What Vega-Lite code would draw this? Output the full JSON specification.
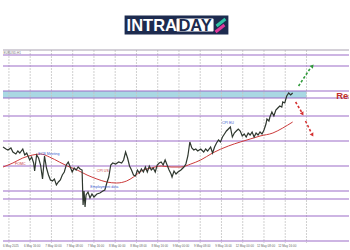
{
  "$schema": "https://vega.github.io/schema/vega-lite/v6.json",
  "width": 350,
  "height": 250,
  "padding": 0,
  "autosize": {"type": "fit", "contains": "padding"},
  "background": "white",
  "config": {"view": {"stroke": null}, "font": "Liberation Sans"},
  "datasets": {
    "band": [{"lo": 1.1152, "hi": 1.1159}],
    "vgrid": [{"t": 6}, {"t": 27.5}, {"t": 49}, {"t": 70.5}, {"t": 92}, {"t": 113.5}, {"t": 135}, {"t": 156.5}, {"t": 178}, {"t": 199.5}, {"t": 221}, {"t": 242.5}, {"t": 264}, {"t": 285.5}, {"t": 307}],
    "levels": [{"p": 1.1195}, {"p": 1.1184}, {"p": 1.1159}, {"p": 1.1152}, {"p": 1.1134}, {"p": 1.1109}, {"p": 1.1084}, {"p": 1.1059}, {"p": 1.1051}, {"p": 1.1034}, {"p": 1.1009}],
    "price": [
      {"t": 0, "p": 1.1103}, {"t": 3, "p": 1.1101}, {"t": 5, "p": 1.1100}, {"t": 8, "p": 1.1102}, {"t": 10, "p": 1.1098},
      {"t": 13, "p": 1.1096}, {"t": 15, "p": 1.1099}, {"t": 17, "p": 1.1097}, {"t": 20, "p": 1.1101}, {"t": 22, "p": 1.1095},
      {"t": 24, "p": 1.1097}, {"t": 27, "p": 1.1090}, {"t": 29, "p": 1.1093}, {"t": 31, "p": 1.1087}, {"t": 32, "p": 1.1079},
      {"t": 34, "p": 1.1095}, {"t": 36, "p": 1.1092}, {"t": 38, "p": 1.1085}, {"t": 40, "p": 1.1071}, {"t": 42, "p": 1.1094},
      {"t": 44, "p": 1.1082}, {"t": 46, "p": 1.1075}, {"t": 48, "p": 1.1070}, {"t": 50, "p": 1.1069}, {"t": 52, "p": 1.1071},
      {"t": 54, "p": 1.1065}, {"t": 56, "p": 1.1068}, {"t": 58, "p": 1.1070}, {"t": 60, "p": 1.1075}, {"t": 62, "p": 1.1078},
      {"t": 64, "p": 1.1085}, {"t": 66, "p": 1.1088}, {"t": 68, "p": 1.1083}, {"t": 70, "p": 1.1078}, {"t": 72, "p": 1.1082},
      {"t": 74, "p": 1.1080}, {"t": 76, "p": 1.1083}, {"t": 78, "p": 1.1081}, {"t": 80, "p": 1.1080}, {"t": 81, "p": 1.1045},
      {"t": 82, "p": 1.1059}, {"t": 83, "p": 1.1043}, {"t": 84, "p": 1.1055}, {"t": 86, "p": 1.1058}, {"t": 88, "p": 1.1052},
      {"t": 90, "p": 1.1056}, {"t": 92, "p": 1.1053}, {"t": 95, "p": 1.1056}, {"t": 98, "p": 1.1057}, {"t": 101, "p": 1.1059},
      {"t": 103, "p": 1.1060}, {"t": 105, "p": 1.1067}, {"t": 107, "p": 1.1073}, {"t": 109, "p": 1.1085}, {"t": 111, "p": 1.1087},
      {"t": 114, "p": 1.1086}, {"t": 117, "p": 1.1088}, {"t": 120, "p": 1.1087}, {"t": 122, "p": 1.1090}, {"t": 124, "p": 1.1098},
      {"t": 126, "p": 1.1092}, {"t": 128, "p": 1.1084}, {"t": 130, "p": 1.1080}, {"t": 132, "p": 1.1075}, {"t": 134, "p": 1.1074},
      {"t": 136, "p": 1.1080}, {"t": 138, "p": 1.1077}, {"t": 140, "p": 1.1081}, {"t": 142, "p": 1.1078}, {"t": 144, "p": 1.1083},
      {"t": 146, "p": 1.1078}, {"t": 148, "p": 1.1084}, {"t": 150, "p": 1.1080}, {"t": 152, "p": 1.1082}, {"t": 154, "p": 1.1078},
      {"t": 156, "p": 1.1085}, {"t": 158, "p": 1.1087}, {"t": 160, "p": 1.1088}, {"t": 162, "p": 1.1085}, {"t": 164, "p": 1.1090},
      {"t": 166, "p": 1.1085}, {"t": 168, "p": 1.1080}, {"t": 170, "p": 1.1076}, {"t": 171, "p": 1.1073}, {"t": 173, "p": 1.1079},
      {"t": 175, "p": 1.1076}, {"t": 177, "p": 1.1078}, {"t": 180, "p": 1.1080}, {"t": 183, "p": 1.1083}, {"t": 185, "p": 1.1086},
      {"t": 187, "p": 1.1094}, {"t": 189, "p": 1.1108}, {"t": 191, "p": 1.1102}, {"t": 193, "p": 1.1100}, {"t": 195, "p": 1.1101},
      {"t": 197, "p": 1.1099}, {"t": 200, "p": 1.1101}, {"t": 203, "p": 1.1098}, {"t": 205, "p": 1.1101}, {"t": 207, "p": 1.1099},
      {"t": 210, "p": 1.1103}, {"t": 212, "p": 1.1097}, {"t": 214, "p": 1.1103}, {"t": 216, "p": 1.1107}, {"t": 218, "p": 1.1110},
      {"t": 220, "p": 1.1108}, {"t": 222, "p": 1.1113}, {"t": 224, "p": 1.1116}, {"t": 226, "p": 1.1119}, {"t": 228, "p": 1.1121},
      {"t": 230, "p": 1.1123}, {"t": 232, "p": 1.1113}, {"t": 234, "p": 1.1117}, {"t": 236, "p": 1.1119}, {"t": 238, "p": 1.1121},
      {"t": 240, "p": 1.1119}, {"t": 242, "p": 1.1114}, {"t": 244, "p": 1.1116}, {"t": 246, "p": 1.1113}, {"t": 248, "p": 1.1117},
      {"t": 250, "p": 1.1115}, {"t": 252, "p": 1.1118}, {"t": 254, "p": 1.1113}, {"t": 256, "p": 1.1117}, {"t": 258, "p": 1.1115},
      {"t": 260, "p": 1.1118}, {"t": 262, "p": 1.1116}, {"t": 264, "p": 1.1120}, {"t": 266, "p": 1.1126}, {"t": 267, "p": 1.1131},
      {"t": 269, "p": 1.1129}, {"t": 270, "p": 1.1133}, {"t": 272, "p": 1.1138}, {"t": 274, "p": 1.1134}, {"t": 276, "p": 1.1140},
      {"t": 278, "p": 1.1142}, {"t": 280, "p": 1.1144}, {"t": 282, "p": 1.1143}, {"t": 283, "p": 1.1148}, {"t": 285, "p": 1.1147},
      {"t": 287, "p": 1.1154}, {"t": 289, "p": 1.1157}, {"t": 291, "p": 1.1155}, {"t": 293, "p": 1.1157}
    ],
    "ma": [
      {"t": 0, "p": 1.1083}, {"t": 10, "p": 1.1087}, {"t": 20, "p": 1.1092}, {"t": 30, "p": 1.1095}, {"t": 38, "p": 1.1096},
      {"t": 47, "p": 1.1093}, {"t": 57, "p": 1.1088}, {"t": 65, "p": 1.1084}, {"t": 75, "p": 1.1080}, {"t": 85, "p": 1.1075},
      {"t": 95, "p": 1.1071}, {"t": 105, "p": 1.1068}, {"t": 115, "p": 1.1067}, {"t": 125, "p": 1.1069}, {"t": 132, "p": 1.1073},
      {"t": 140, "p": 1.1079}, {"t": 150, "p": 1.1082}, {"t": 160, "p": 1.1084}, {"t": 170, "p": 1.1083}, {"t": 180, "p": 1.1083},
      {"t": 190, "p": 1.1086}, {"t": 200, "p": 1.1090}, {"t": 212, "p": 1.1097}, {"t": 228, "p": 1.1104}, {"t": 240, "p": 1.1108},
      {"t": 250, "p": 1.1111}, {"t": 260, "p": 1.1114}, {"t": 273, "p": 1.1117}, {"t": 283, "p": 1.1122}, {"t": 293, "p": 1.1128}
    ],
    "eventsBlue": [
      {"t": 46.5, "p": 1.1096, "label": "ECB Meeting"},
      {"t": 102.5, "p": 1.1063, "label": "Employment data"},
      {"t": 227.5, "p": 1.1127, "label": "CPI EU"}
    ],
    "eventsRed": [
      {"t": 17.5, "p": 1.1086, "label": "FOMC"},
      {"t": 101, "p": 1.1079, "label": "CPI US"}
    ],
    "upPath": [{"t": 299, "p": 1.1164}, {"t": 303, "p": 1.1170}, {"t": 307, "p": 1.1176}, {"t": 311, "p": 1.1182}],
    "upHead": [{"t": 313, "p": 1.1184}],
    "downPath": [
      {"leg": "a", "t": 296, "p": 1.1148}, {"leg": "a", "t": 299, "p": 1.1143}, {"leg": "a", "t": 302, "p": 1.1138},
      {"leg": "b", "t": 306, "p": 1.1129}, {"leg": "b", "t": 309, "p": 1.1123}, {"leg": "b", "t": 312, "p": 1.1117}
    ],
    "downHead": [{"t": 303, "p": 1.1136}, {"t": 313, "p": 1.1115}],
    "xlabels": [
      {"t": 6, "label": "6 May 2025"}, {"t": 27.5, "label": "6 May 16:00"}, {"t": 49, "label": "7 May 00:00"},
      {"t": 70.5, "label": "7 May 08:00"}, {"t": 92, "label": "7 May 16:00"}, {"t": 113.5, "label": "8 May 00:00"},
      {"t": 135, "label": "8 May 08:00"}, {"t": 156.5, "label": "8 May 16:00"}, {"t": 178, "label": "9 May 00:00"},
      {"t": 199.5, "label": "9 May 08:00"}, {"t": 221, "label": "9 May 16:00"}, {"t": 242.5, "label": "12 May 00:00"},
      {"t": 264, "label": "12 May 08:00"}, {"t": 285.5, "label": "12 May 16:00"}
    ],
    "brand": [{"name": "INTRADAY"}]
  },
  "layer": [
    {
      "data": {"name": "band"},
      "mark": {"type": "rect", "color": "#a9d8e3"},
      "encoding": {
        "x": {"datum": 0, "type": "quantitative", "scale": {"domain": [0, 350], "nice": false, "zero": false}, "axis": null},
        "x2": {"datum": 307},
        "y": {"field": "hi", "type": "quantitative", "scale": {"domain": [1.1, 1.125], "nice": false, "zero": false}, "axis": null},
        "y2": {"field": "lo"}
      }
    },
    {
      "data": {"name": "vgrid"},
      "mark": {"type": "rule", "color": "#c4c4c4", "strokeWidth": 0.8, "strokeDash": [2, 1]},
      "encoding": {
        "x": {"field": "t", "type": "quantitative", "scale": {"domain": [0, 350], "nice": false, "zero": false}, "axis": null},
        "y": {"datum": 1.12, "type": "quantitative", "scale": {"domain": [1.1, 1.125], "nice": false, "zero": false}, "axis": null},
        "y2": {"datum": 1.1007}
      }
    },
    {
      "data": {"name": "brand"},
      "mark": {"type": "rule", "color": "#a8a0b0", "strokeWidth": 1},
      "encoding": {
        "y": {"datum": 1.12, "type": "quantitative", "scale": {"domain": [1.1, 1.125], "nice": false, "zero": false}, "axis": null}
      }
    },
    {
      "data": {"name": "levels"},
      "mark": {"type": "rule", "color": "#9b6cc8", "strokeWidth": 1.1},
      "encoding": {
        "y": {"field": "p", "type": "quantitative", "scale": {"domain": [1.1, 1.125], "nice": false, "zero": false}, "axis": null}
      }
    },
    {
      "data": {"name": "ma"},
      "mark": {"type": "line", "color": "#cc3b3b", "strokeWidth": 1, "interpolate": "monotone"},
      "encoding": {
        "x": {"field": "t", "type": "quantitative", "scale": {"domain": [0, 350], "nice": false, "zero": false}, "axis": null},
        "y": {"field": "p", "type": "quantitative", "scale": {"domain": [1.1, 1.125], "nice": false, "zero": false}, "axis": null}
      }
    },
    {
      "data": {"name": "price"},
      "mark": {"type": "line", "color": "#2e372e", "strokeWidth": 1.2},
      "encoding": {
        "x": {"field": "t", "type": "quantitative", "scale": {"domain": [0, 350], "nice": false, "zero": false}, "axis": null},
        "y": {"field": "p", "type": "quantitative", "scale": {"domain": [1.1, 1.125], "nice": false, "zero": false}, "axis": null}
      }
    },
    {
      "data": {"name": "eventsBlue"},
      "mark": {"type": "text", "color": "#3b5bd0", "fontSize": 3.6, "baseline": "middle", "align": "center"},
      "encoding": {
        "x": {"field": "t", "type": "quantitative", "scale": {"domain": [0, 350], "nice": false, "zero": false}, "axis": null},
        "y": {"field": "p", "type": "quantitative", "scale": {"domain": [1.1, 1.125], "nice": false, "zero": false}, "axis": null},
        "text": {"field": "label"}
      }
    },
    {
      "data": {"name": "eventsRed"},
      "mark": {"type": "text", "color": "#c83a3a", "fontSize": 3.6, "baseline": "middle", "align": "center"},
      "encoding": {
        "x": {"field": "t", "type": "quantitative", "scale": {"domain": [0, 350], "nice": false, "zero": false}, "axis": null},
        "y": {"field": "p", "type": "quantitative", "scale": {"domain": [1.1, 1.125], "nice": false, "zero": false}, "axis": null},
        "text": {"field": "label"}
      }
    },
    {
      "data": {"name": "upPath"},
      "mark": {"type": "line", "color": "#2f9a3a", "strokeWidth": 1.6, "strokeDash": [2.5, 2]},
      "encoding": {
        "x": {"field": "t", "type": "quantitative", "scale": {"domain": [0, 350], "nice": false, "zero": false}, "axis": null},
        "y": {"field": "p", "type": "quantitative", "scale": {"domain": [1.1, 1.125], "nice": false, "zero": false}, "axis": null}
      }
    },
    {
      "data": {"name": "upHead"},
      "mark": {"type": "point", "shape": "triangle-up", "filled": true, "color": "#2f9a3a", "size": 18, "angle": 40, "opacity": 1},
      "encoding": {
        "x": {"field": "t", "type": "quantitative", "scale": {"domain": [0, 350], "nice": false, "zero": false}, "axis": null},
        "y": {"field": "p", "type": "quantitative", "scale": {"domain": [1.1, 1.125], "nice": false, "zero": false}, "axis": null}
      }
    },
    {
      "data": {"name": "downPath"},
      "mark": {"type": "line", "color": "#d43030", "strokeWidth": 1.6, "strokeDash": [2.5, 2]},
      "encoding": {
        "x": {"field": "t", "type": "quantitative", "scale": {"domain": [0, 350], "nice": false, "zero": false}, "axis": null},
        "y": {"field": "p", "type": "quantitative", "scale": {"domain": [1.1, 1.125], "nice": false, "zero": false}, "axis": null},
        "detail": {"field": "leg"}
      }
    },
    {
      "data": {"name": "downHead"},
      "mark": {"type": "point", "shape": "triangle-up", "filled": true, "color": "#d43030", "size": 18, "angle": 150, "opacity": 1},
      "encoding": {
        "x": {"field": "t", "type": "quantitative", "scale": {"domain": [0, 350], "nice": false, "zero": false}, "axis": null},
        "y": {"field": "p", "type": "quantitative", "scale": {"domain": [1.1, 1.125], "nice": false, "zero": false}, "axis": null}
      }
    },
    {
      "data": {"name": "brand"},
      "mark": {"type": "text", "text": "Resistance", "color": "#c0302b", "fontSize": 9.5, "fontWeight": "bold", "align": "left", "baseline": "middle", "clip": true},
      "encoding": {
        "x": {"datum": 337, "type": "quantitative", "scale": {"domain": [0, 350], "nice": false, "zero": false}, "axis": null},
        "y": {"datum": 1.11545, "type": "quantitative", "scale": {"domain": [1.1, 1.125], "nice": false, "zero": false}, "axis": null}
      }
    },
    {
      "data": {"name": "xlabels"},
      "mark": {"type": "text", "color": "#666666", "fontSize": 3, "align": "center", "baseline": "middle", "dx": 2},
      "encoding": {
        "x": {"field": "t", "type": "quantitative", "scale": {"domain": [0, 350], "nice": false, "zero": false}, "axis": null},
        "y": {"datum": 1.1004, "type": "quantitative", "scale": {"domain": [1.1, 1.125], "nice": false, "zero": false}, "axis": null},
        "text": {"field": "label"}
      }
    },
    {
      "data": {"name": "brand"},
      "mark": {"type": "text", "text": "EURUSD,H1", "color": "#777777", "fontSize": 3, "align": "left", "baseline": "middle"},
      "encoding": {
        "x": {"datum": 0.5, "type": "quantitative", "scale": {"domain": [0, 350], "nice": false, "zero": false}, "axis": null},
        "y": {"datum": 1.11975, "type": "quantitative", "scale": {"domain": [1.1, 1.125], "nice": false, "zero": false}, "axis": null}
      }
    },
    {
      "data": {"name": "brand"},
      "mark": {"type": "rect", "color": "#1d2b4f"},
      "encoding": {
        "x": {"datum": 123, "type": "quantitative", "scale": {"domain": [0, 350], "nice": false, "zero": false}, "axis": null},
        "x2": {"datum": 228},
        "y": {"datum": 1.12345, "type": "quantitative", "scale": {"domain": [1.1, 1.125], "nice": false, "zero": false}, "axis": null},
        "y2": {"datum": 1.12155}
      }
    },
    {
      "data": {"name": "brand"},
      "mark": {"type": "rect", "color": "#ffffff", "cornerRadius": 1},
      "encoding": {
        "x": {"datum": 175.5, "type": "quantitative", "scale": {"domain": [0, 350], "nice": false, "zero": false}, "axis": null},
        "x2": {"datum": 213},
        "y": {"datum": 1.12315, "type": "quantitative", "scale": {"domain": [1.1, 1.125], "nice": false, "zero": false}, "axis": null},
        "y2": {"datum": 1.12185}
      }
    },
    {
      "data": {"name": "brand"},
      "mark": {"type": "text", "text": "INTRA", "color": "#ffffff", "fontSize": 16.5, "fontWeight": "bold", "align": "center", "baseline": "middle", "dy": 1},
      "encoding": {
        "x": {"datum": 150.5, "type": "quantitative", "scale": {"domain": [0, 350], "nice": false, "zero": false}, "axis": null},
        "y": {"datum": 1.1225, "type": "quantitative", "scale": {"domain": [1.1, 1.125], "nice": false, "zero": false}, "axis": null}
      }
    },
    {
      "data": {"name": "brand"},
      "mark": {"type": "text", "text": "DAY", "color": "#1d2b4f", "fontSize": 16.5, "fontWeight": "bold", "align": "center", "baseline": "middle", "dy": 1},
      "encoding": {
        "x": {"datum": 194.3, "type": "quantitative", "scale": {"domain": [0, 350], "nice": false, "zero": false}, "axis": null},
        "y": {"datum": 1.1225, "type": "quantitative", "scale": {"domain": [1.1, 1.125], "nice": false, "zero": false}, "axis": null}
      }
    },
    {
      "data": {"name": "brand"},
      "mark": {"type": "rule", "color": "#2ec4a6", "strokeWidth": 3},
      "encoding": {
        "x": {"datum": 216, "type": "quantitative", "scale": {"domain": [0, 350], "nice": false, "zero": false}, "axis": null},
        "x2": {"datum": 225},
        "y": {"datum": 1.1224, "type": "quantitative", "scale": {"domain": [1.1, 1.125], "nice": false, "zero": false}, "axis": null},
        "y2": {"datum": 1.1231}
      }
    },
    {
      "data": {"name": "brand"},
      "mark": {"type": "rule", "color": "#e0379b", "strokeWidth": 3},
      "encoding": {
        "x": {"datum": 215, "type": "quantitative", "scale": {"domain": [0, 350], "nice": false, "zero": false}, "axis": null},
        "x2": {"datum": 224},
        "y": {"datum": 1.1218, "type": "quantitative", "scale": {"domain": [1.1, 1.125], "nice": false, "zero": false}, "axis": null},
        "y2": {"datum": 1.1225}
      }
    }
  ]
}
